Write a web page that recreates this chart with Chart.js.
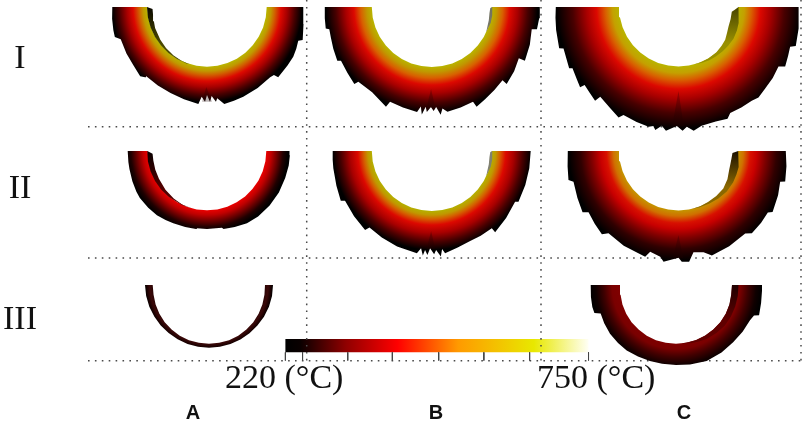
<!DOCTYPE html>
<html>
<head>
    <meta charset="UTF-8" />
    <title>Temperature fields</title>
    <script src="https://cdn.jsdelivr.net/npm/chart.js"></script>
    <style>
        html, body { margin: 0; padding: 0; background: #fff; }
        canvas { display: block; }
    </style>
</head>
<body>
    <canvas id="rings" width="803" height="421"></canvas>

    <script>
        // labels
        const rowLabels = ['I', 'II', 'III'];
        const columnLabels = ['A', 'B', 'C'];
        const scaleLabels = ['220 (°C)', '750 (°C)'];

        // dotted panel lines, in picture units
        const gridRows = [126.7, 258, 360.7];
        const gridColumns = [306.7, 541, 801];

        // colour bar, in °C
        const barRange = [220, 750];
        const barTicks = [220, 250, 329, 407, 488, 567, 647, 750];
        const barStops = [0, 0.05, 0.2, 0.37, 0.57, 0.82, 1];
        const barColors = ['#000000', '#0a0000', '#900000', '#ff0000', '#ff9a00', '#e8e800', '#fffff5'];

        // ring profiles: angle in degrees (0 right, 90 bottom, 180 left) and radius
        const innerAngles = [0, 10, 20, 30, 40, 50, 60, 70, 80, 90, 100, 110, 120, 130, 140, 150, 160, 170, 180];

        const centerIA = [207, 7];
        const innerIA = [59.7, 59.7, 59.7, 59.7, 59.7, 59.7, 59.7, 59.7, 59.7, 59.7, 59.7, 59.7, 59.7, 59.7, 59.7, 59.7, 59.7, 59.7, 59.7];
        const outerIA = [[180, 94.7], [173, 95.6], [166, 96.5], [162, 96.9], [159.5, 92.1], [150, 93], [142, 93.8], [134, 96.2], [131.4, 93.7], [131.5, 92.1], [122, 92.7], [113, 93.3], [104, 95.2], [95.1, 97.4], [93.4, 89.9], [91.2, 94.7], [90, 88], [88.2, 94.7], [87, 89.1], [84.6, 95.1], [83.6, 91.9], [79.9, 98.5], [74, 97.6], [68, 96.8], [58, 95.6], [48, 94.4], [45.5, 95.5], [44.6, 100], [36, 99.5], [30, 99.6], [25, 98.5], [20.3, 97.3], [19, 101.2], [10, 98], [1.8, 96.3], [0, 96.3]];
        const radiiIA = [59.7, 64, 68, 74, 80, 88, 95];
        const colorsIA = ['#b8b400', '#c09800', '#d06000', '#dc0800', '#a80000', '#480000', '#000000'];

        const centerIB = [431.8, 7];
        const innerIB = [60, 60, 60, 60, 60, 60, 60, 60, 60, 60, 60, 60, 60, 60, 60, 60, 60, 60, 60];
        const outerIB = [[180, 107], [174, 107.6], [168.6, 108.2], [167.7, 104.9], [163, 105.5], [157, 107], [150.4, 108.7], [149.4, 105.5], [142, 107], [135.2, 109.2], [134.5, 104.8], [125, 104], [114.7, 109.7], [113.8, 103.5], [106, 104.5], [98, 106], [96.3, 100], [95.3, 108], [93.5, 100], [92.7, 105], [90.5, 100], [89, 104], [87.5, 100], [85.3, 108], [84, 102], [81.5, 106], [74, 104.5], [66.5, 103.4], [65.8, 109.3], [60, 106.5], [53, 104], [46, 101.8], [45.8, 107.4], [38, 104.5], [30.5, 101], [30, 107.5], [21, 105], [12.6, 102.4], [12, 107.5], [6, 108], [0, 108]];
        const radiiIB = [60, 65, 71, 78, 86, 96, 106];
        const colorsIB = ['#b8b400', '#c09800', '#d86000', '#dc0800', '#a80000', '#480000', '#000000'];

        const centerIC = [678.5, 7];
        const innerIC = [59.5, 59.5, 59.5, 59.5, 59.5, 59.5, 59.5, 59.5, 59.5, 59.5, 59.5, 59.5, 59.5, 59.5, 59.5, 59.5, 59.5, 59.5, 59.5];
        const outerIC = [[180, 122.7], [175, 123.5], [169.4, 124.5], [160.9, 126.3], [160.2, 122.2], [155, 123.5], [150.7, 125.4], [150, 122.4], [145, 124.5], [140.8, 127], [140.3, 122], [136, 123.5], [131.7, 125.4], [131.1, 119], [124, 122], [118.5, 125.6], [117, 121.2], [110, 122.5], [104, 123.4], [101.9, 121.6], [100.7, 125.2], [98, 120], [95.8, 124.3], [90.8, 119], [88.1, 123.7], [86, 120], [83, 124.6], [79, 121], [72, 120.5], [66.3, 122], [64, 118], [58, 118.5], [52, 119], [48.5, 120.7], [43.2, 118.9], [37, 118], [30.8, 116.4], [29.2, 122.2], [24, 120], [19.6, 118.5], [18.4, 123.6], [10, 122], [4, 120.5], [0, 120]];
        const radiiIC = [59.5, 66, 73, 82, 92, 106, 122];
        const colorsIC = ['#b8b400', '#c4a000', '#d86000', '#dc0800', '#a80000', '#480000', '#000000'];

        const centerIIA = [207, 151];
        const innerIIA = [59.3, 59.3, 59.3, 59.3, 59.3, 59.3, 59.3, 59.3, 59.3, 59.3, 59.3, 59.3, 59.3, 59.3, 59.3, 59.3, 59.3, 59.3, 59.3];
        const outerIIA = [[180, 79.3], [172, 79.4], [167, 79.6], [158, 80.5], [150, 81.5], [145, 82], [136, 81.7], [128, 81.4], [121, 80.5], [115, 79.8], [106, 79], [98, 78.8], [97.5, 78], [90, 78], [79, 78.2], [78, 79.7], [70, 81], [61, 82.5], [52, 83], [41, 83], [30, 83], [19, 82.7], [10, 83], [3, 83], [0, 82.5]];
        const radiiIIA = [59.3, 64, 70, 76, 81];
        const colorsIIA = ['#e80000', '#c00000', '#700000', '#200000', '#000000'];

        const centerIIB = [431.8, 151];
        const innerIIB = [60, 60, 60, 60, 60, 60, 60, 60, 60, 60, 60, 60, 60, 60, 60, 60, 60, 60, 60];
        const outerIIB = [[180, 99.1], [175, 99.5], [170, 100], [160, 101.5], [151.4, 103.7], [150.2, 100], [140, 101.5], [130.2, 103.4], [129.2, 98.6], [120, 100], [110, 101.5], [98.3, 103.4], [96.3, 97.9], [94.9, 105], [93.9, 99.2], [92.4, 104], [91, 97.3], [88.7, 103.4], [87.5, 99.1], [85.1, 106], [84, 98.5], [82.6, 103.2], [75, 100], [66.9, 97.8], [60, 97.8], [52.2, 97.9], [52.1, 103.1], [42, 100], [31.3, 97.5], [30.3, 100.4], [20, 99.5], [10, 99], [0, 98.9]];
        const radiiIIB = [60, 64, 68, 74, 82, 91, 99];
        const colorsIIB = ['#b4b000', '#c09800', '#d46000', '#dc0800', '#a80000', '#480000', '#000000'];

        const centerIIC = [678.5, 151];
        const innerIIC = [59.5, 59.5, 59.5, 59.5, 59.5, 59.5, 59.5, 59.5, 59.5, 59.5, 59.5, 59.5, 59.5, 59.5, 59.5, 59.5, 59.5, 59.5, 59.5];
        const outerIIC = [[180, 110.7], [172, 112], [165.2, 113.8], [163.7, 109.4], [155, 111.5], [147.4, 113.9], [145.7, 108.9], [139, 111], [132.6, 113.2], [130.4, 108], [120, 109.5], [107.5, 110.8], [105.7, 104.6], [99.8, 107.2], [97.7, 111.7], [90, 106.7], [88.3, 110.7], [84.5, 111.2], [81.6, 102.4], [76.1, 104.4], [72.3, 109.8], [62, 108], [51, 106], [48.3, 110.3], [41, 109.5], [34.5, 108.4], [33, 112.2], [24, 109], [16.8, 106.2], [16, 111], [8, 109], [0, 107.3]];
        const radiiIIC = [59.5, 65, 72, 78, 87, 98, 110];
        const colorsIIC = ['#c49400', '#d07000', '#d81000', '#c80000', '#800000', '#300000', '#000000'];

        const centerIIIA = [209, 285];
        const innerIIIA = [56, 56.3, 56.8, 57.3, 57.8, 58.2, 58.5, 58.7, 58.7, 58.7, 58.7, 58.7, 58.5, 58.2, 57.8, 57.3, 56.8, 56.3, 56.3];
        const outerIIIA = [[180, 64], [170, 63.8], [160, 63.5], [150, 63.2], [140, 63], [130, 62.8], [120, 62.7], [110, 62.7], [100, 62.7], [90, 62.7], [80, 62.7], [70, 62.7], [60, 62.8], [50, 63], [40, 63.2], [30, 63.5], [20, 63.8], [10, 64], [0, 64]];
        const radiiIIIA = [56, 59, 62, 64];
        const colorsIIIA = ['#2a0505', '#3a0808', '#1a0000', '#000000'];

        const centerIIIC = [676, 285];
        const innerIIIC = [56, 56.3, 57, 57.5, 58, 58.2, 58.5, 58.7, 58.7, 58.7, 58.7, 58.7, 58.5, 58.2, 58, 57.5, 57, 56.3, 56];
        const outerIIIC = [[180, 85.3], [172, 85.9], [165.3, 86.5], [161, 86.3], [159.2, 80.6], [152, 81.3], [143.6, 82], [135, 82], [127, 81.9], [118, 81], [109, 80.3], [100, 80], [90, 80], [80, 80.8], [68, 82], [56, 81.4], [45, 80.8], [35, 81.3], [25.5, 82], [21.3, 83.7], [20, 88.4], [12, 87], [3.5, 86.2], [0, 86]];
        const radiiIIIC = [56, 64, 72, 80, 86];
        const colorsIIIC = ['#800000', '#7a0000', '#400000', '#100000', '#000000'];

        // inner side walls seen through the hole
        const wallIA = [[180, 60], [170, 60], [160, 60], [150, 60], [140, 60], [130, 60], [120, 60], [110, 60], [107, 59.8], [115, 59.5], [125, 58.8], [135, 58], [145, 57], [158, 56], [165, 55], [172, 54.5], [178, 54.5]];
        const wallIB = [[0, 60.5], [8, 61], [15, 61], [25, 60], [20, 59], [13, 58.5], [6, 58], [1, 58.5]];
        const wallIC = [[0, 60], [8, 61], [15, 62], [22, 63], [30, 63.5], [38, 63], [45, 62.5], [53, 62], [60, 61.5], [67, 60.5], [75, 59.6], [67, 59.6], [60, 59.6], [50, 59], [42, 58], [35, 57], [28, 55], [21.5, 53.7], [13, 53.5], [5, 53.5], [3, 56]];
        const wallIIA = [[180, 59.7], [170, 60], [160, 60], [150, 60], [140, 60], [130, 59.8], [115, 59.5], [105, 59.3], [115, 58.9], [125, 58], [137, 56.8], [150, 55.5], [160, 55], [170, 54.5], [177, 54.5]];
        const wallIIB = [[0, 60.5], [8, 61], [15, 61], [25, 60], [20, 59], [13, 58.5], [6, 58], [1, 58.5]];
        const wallIIC = [[0, 59.7], [8, 61], [15, 62], [22, 62.5], [30, 63], [40, 63], [50, 62], [60, 61], [70, 60], [77, 59.4], [68, 59.2], [60, 59], [50, 58.8], [40, 58.5], [30, 56.5], [20, 54], [14, 53.5], [8, 53.5], [2, 54]];
        const wallIIIC = [[0, 62.5], [10, 62.7], [20, 63], [30, 63.3], [40, 63.5], [50, 62.8], [60, 62], [68, 61], [75, 60], [85, 58.7], [78, 58.6], [70, 58.5], [60, 58.2], [50, 58], [40, 57.8], [30, 57.5], [20, 56.8], [10, 56], [0, 56]];

        // dark seams at the bottom of the thick rings
        const seamIA = [[90.5, 80], [93, 95], [87, 95]];
        const seamIB = [[90.5, 82], [93, 101], [88, 101]];
        const seamIC = [[90, 84], [93, 119], [87.5, 119]];
        const seamIIB = [[90.5, 80], [93, 98], [88, 98]];
        const seamIIC = [[90, 84], [93, 107], [87.5, 107]];

        const rings = [
            { center: centerIA, inner: innerIA, outer: outerIA, radii: radiiIA, colors: colorsIA },
            { center: centerIB, inner: innerIB, outer: outerIB, radii: radiiIB, colors: colorsIB },
            { center: centerIC, inner: innerIC, outer: outerIC, radii: radiiIC, colors: colorsIC },
            { center: centerIIA, inner: innerIIA, outer: outerIIA, radii: radiiIIA, colors: colorsIIA },
            { center: centerIIB, inner: innerIIB, outer: outerIIB, radii: radiiIIB, colors: colorsIIB },
            { center: centerIIC, inner: innerIIC, outer: outerIIC, radii: radiiIIC, colors: colorsIIC },
            { center: centerIIIA, inner: innerIIIA, outer: outerIIIA, radii: radiiIIIA, colors: colorsIIIA },
            { center: centerIIIC, inner: innerIIIC, outer: outerIIIC, radii: radiiIIIC, colors: colorsIIIC }
        ];

        const seamColor = 'rgba(30, 0, 0, 0.28)';
        const walls = [
            { center: centerIA, points: wallIA, colors: ['#0a0800', '#4a4800'] },
            { center: centerIB, points: wallIB, colors: ['#707060', '#808070'] },
            { center: centerIC, points: wallIC, colors: ['#484400', '#989000'] },
            { center: centerIIA, points: wallIIA, colors: ['#080000', '#500000'] },
            { center: centerIIB, points: wallIIB, colors: ['#808070', '#808070'] },
            { center: centerIIC, points: wallIIC, colors: ['#1a1000', '#8a6800'] },
            { center: centerIIIC, points: wallIIIC, colors: ['#200000', '#600000'] },
            { center: centerIA, points: seamIA, colors: [seamColor, seamColor] },
            { center: centerIB, points: seamIB, colors: [seamColor, seamColor] },
            { center: centerIC, points: seamIC, colors: [seamColor, seamColor] },
            { center: centerIIB, points: seamIIB, colors: [seamColor, seamColor] },
            { center: centerIIC, points: seamIIC, colors: [seamColor, seamColor] }
        ];

        function toPoint(center, angle, radius) {
            const a = angle * Math.PI / 180;
            return { x: center[0] + radius * Math.cos(a), y: center[1] + radius * Math.sin(a) };
        }

        function ringGradient(ring) {
            return function (context) {
                const { chart } = context;
                if (!chart.chartArea) return ring.colors[0];
                const cx = chart.scales.x.getPixelForValue(ring.center[0]);
                const cy = chart.scales.y.getPixelForValue(ring.center[1]);
                const last = ring.radii[ring.radii.length - 1];
                const g = chart.ctx.createRadialGradient(cx, cy, 0, cx, cy, last);
                ring.radii.forEach((r, i) => g.addColorStop(r / last, ring.colors[i]));
                return g;
            };
        }

        function wallGradient(wall) {
            return function (context) {
                const { chart } = context;
                if (!chart.chartArea) return wall.colors[0];
                const cy = chart.scales.y.getPixelForValue(wall.center[1]);
                const g = chart.ctx.createLinearGradient(0, cy, 0, cy + 60);
                g.addColorStop(0, wall.colors[0]);
                g.addColorStop(0.6, wall.colors[1]);
                return g;
            };
        }

        function barGradient(context) {
            const { chart } = context;
            if (!chart.chartArea) return barColors[0];
            const left = chart.scales.xTemp.getPixelForValue(barRange[0]);
            const right = chart.scales.xTemp.getPixelForValue(barRange[1]);
            const g = chart.ctx.createLinearGradient(left, 0, right, 0);
            barStops.forEach((s, i) => g.addColorStop(s, barColors[i]));
            return g;
        }

        const shape = { fill: 'shape', borderWidth: 0, pointRadius: 0, tension: 0 };
        const datasets = [];

        // colour bar goes under the dotted lines
        datasets.push({
            ...shape,
            order: 9,
            xAxisID: 'xTemp',
            backgroundColor: barGradient,
            data: [
                { x: barRange[0], y: 339 }, { x: barRange[1], y: 339 },
                { x: barRange[1], y: 352.3 }, { x: barRange[0], y: 352.3 }
            ]
        });

        const dots = { fill: false, borderColor: '#4a4a4a', borderWidth: 1.5, borderDash: [1.6, 5.3], pointRadius: 0, order: 8 };
        gridRows.forEach(y => datasets.push({ ...dots, data: [{ x: 88, y: y }, { x: 803, y: y }] }));
        gridColumns.forEach(x => datasets.push({ ...dots, data: [{ x: x, y: 0 }, { x: x, y: 361 }] }));

        rings.forEach(ring => {
            const outer = ring.outer.map(p => toPoint(ring.center, p[0], p[1]));
            const inner = innerAngles.map((a, i) => toPoint(ring.center, a, ring.inner[i]));
            datasets.push({ ...shape, order: 5, backgroundColor: ringGradient(ring), data: outer.concat(inner) });
        });

        walls.forEach(wall => {
            datasets.push({
                ...shape,
                order: 4,
                backgroundColor: wallGradient(wall),
                data: wall.points.map(p => toPoint(wall.center, p[0], p[1]))
            });
        });

        barTicks.forEach(t => datasets.push({
            fill: false,
            order: 3,
            xAxisID: 'xTemp',
            borderColor: '#444444',
            borderWidth: 1,
            pointRadius: 0,
            data: [{ x: t, y: 352.3 }, { x: t, y: 360.5 }]
        }));

        // labels are plain canvas text placed through the scales
        const textPlugin = {
            id: 'panelText',
            afterDraw(chart) {
                const { ctx, scales } = chart;
                const put = (text, x, y, font, align) => {
                    ctx.font = font;
                    ctx.textAlign = align;
                    ctx.textBaseline = 'alphabetic';
                    ctx.fillStyle = '#111111';
                    ctx.fillText(text, scales.x.getPixelForValue(x), scales.y.getPixelForValue(y));
                };
                const serif = '34px "Liberation Serif"';
                const bold = 'bold 20px "Liberation Sans"';
                [68, 198, 329].forEach((y, i) => put(rowLabels[i], 20, y, serif, 'center'));
                [193, 436, 684].forEach((x, i) => put(columnLabels[i], x, 419, bold, 'center'));
                [[225, 388], [537, 388]].forEach((p, i) => put(scaleLabels[i], p[0], p[1], serif, 'left'));
            }
        };

        new Chart(document.getElementById('rings').getContext('2d'), {
            type: 'line',
            data: { datasets: datasets },
            plugins: [textPlugin],
            options: {
                responsive: false,
                animation: false,
                layout: { padding: 0 },
                plugins: { legend: { display: false }, tooltip: { enabled: false } },
                scales: {
                    x: { type: 'linear', min: 0, max: 803, display: false },
                    // colour bar temperatures mapped on the same width
                    xTemp: { type: 'linear', axis: 'x', min: -279, max: 1125, display: false },
                    y: { type: 'linear', min: 0, max: 421, reverse: true, display: false }
                }
            }
        });
    </script>
</body>
</html>
